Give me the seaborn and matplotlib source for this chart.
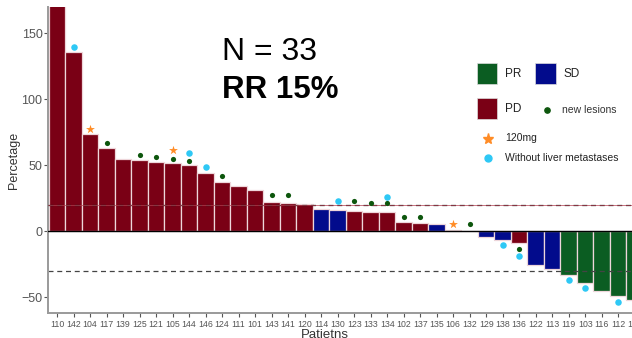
import matplotlib
matplotlib.use("Agg")
import matplotlib.pyplot as plt
from matplotlib.patches import Rectangle
from matplotlib.lines import Line2D
import seaborn as sns
import pandas as pd

patients = ["110", "142", "104", "117", "139", "125", "121", "105", "144", "146",
            "124", "111", "101", "143", "141", "120", "114", "130", "123", "133",
            "134", "102", "137", "135", "106", "132", "129", "138", "136", "122",
            "113", "119", "103", "116", "112", "118"]
change = [185, 136, 73.5, 63, 54.5, 54, 52.5, 51.5, 50, 44.5,
          37.5, 34, 31.5, 22.5, 21.7, 20.7, 16.7, 16, 15.7, 14.5,
          14.5, 7, 6.5, 5.3, 1, 0, -4.5, -6.3, -9.3, -25.8,
          -28.5, -33.3, -39, -45, -49, -52]
response = ["PD"] * 16 + ["SD", "SD"] + ["PD"] * 5 + ["SD", "PD", "PD", "SD", "SD", "PD", "SD", "SD"] + ["PR"] * 5

new_lesion_patients = ["117", "125", "121", "105", "144", "124", "143", "141", "123", "133",
                       "134", "102", "137", "132", "136"]
new_lesion_y = [67, 58, 56.6, 55, 53.5, 42.2, 27.8, 27.8, 22.7, 21.5,
                21.5, 10.6, 10.6, 5.8, -13.6]
dose120_patients = ["104", "105", "106"]
dose120_y = [77.8, 61.4, 5.8]
noliver_patients = ["142", "144", "146", "130", "134", "138", "136", "119", "103", "112"]
noliver_y = [139.4, 59, 48.7, 22.7, 26.3, -10.4, -19, -37, -43, -53.5]

colors = {"PR": "#0b5d22", "SD": "#020b8c", "PD": "#7a0015"}
c_new = "#0d560d"
c_star = "#ff8c26"
c_blue = "#2ec8f5"

df = pd.DataFrame({"patient": patients, "change": change, "response": response})

sns.set_theme(style="white")
plt.rcParams["font.family"] = ["Liberation Sans", "DejaVu Sans"]

W, H = 632, 338
fig = plt.figure(figsize=(W / 100, H / 100), dpi=100)
ax = fig.add_axes([48 / W, (H - 313) / H, (643 - 48) / W, (313 - 7) / H])

sns.barplot(data=df, x="patient", y="change", hue="response", order=patients,
            palette=colors, saturation=1, dodge=False, width=1.0, edgecolor="#eed6da",
            linewidth=0.9, legend=False, ax=ax)

pos = {p: i for i, p in enumerate(patients)}
ax.scatter([pos[p] for p in new_lesion_patients], new_lesion_y, s=14, color=c_new, zorder=5, linewidths=0)
ax.scatter([pos[p] for p in dose120_patients], dose120_y, s=45, marker="*", color=c_star, zorder=5, linewidths=0)
ax.scatter([pos[p] for p in noliver_patients], noliver_y, s=22, color=c_blue, zorder=5, linewidths=0)

ax.axhline(0, color="black", lw=1.0, zorder=4)
ax.axhline(20, color="#222222", lw=0.9, ls=(0, (4, 3)), zorder=4)
ax.axhline(20, color="#b04050", lw=0.5, zorder=4)
ax.axhline(-30, color="#444444", lw=0.9, ls=(0, (4, 3)), zorder=1)

ax.set_xlim(-0.55, 35.5)
ax.set_ylim(-62, 170)
ax.set_yticks([-50, 0, 50, 100, 150])
ax.set_yticklabels(["\u221250", "0", "50", "100", "150"])
ax.tick_params(axis="y", labelsize=9, colors="#555555", length=3, width=0.8, left=True, pad=1)
ax.tick_params(axis="x", labelsize=6.3, colors="#555555", length=3, width=0.8, bottom=True, pad=2)
ax.set_xlabel("")
ax.set_ylabel("Percetage", fontsize=9, color="#333333", labelpad=1)
for s in ["top", "right"]:
    ax.spines[s].set_visible(False)
for s in ["left", "bottom"]:
    ax.spines[s].set_color("#9a9a9a")
    ax.spines[s].set_linewidth(1.4)

fig.text(325 / W, 1 - 329 / H, "Patietns", fontsize=9.5, color="#333333", ha="center", va="top")

fig.text(222 / W, 1 - 52 / H, "N = 33", fontsize=23, color="black", ha="left", va="center")
fig.text(222 / W, 1 - 90 / H, "RR 15%", fontsize=22.5, color="black", ha="left", va="center", fontweight="bold")

# Legend
def square(x0, y0, w, h, c):
    fig.add_artist(Rectangle((x0 / W, 1 - (y0 + h) / H), w / W, h / H, transform=fig.transFigure,
                             facecolor=c, edgecolor="#dddddd", lw=0.5))

square(477, 63, 20, 21, colors["PR"])
fig.text(505 / W, 1 - 74 / H, "PR", fontsize=8.5, ha="left", va="center", color="#222222")
square(535, 63, 21, 21, colors["SD"])
fig.text(563 / W, 1 - 74 / H, "SD", fontsize=8.5, ha="left", va="center", color="#222222")
square(477, 98, 20, 21, colors["PD"])
fig.text(505 / W, 1 - 109 / H, "PD", fontsize=8.5, ha="left", va="center", color="#222222")
fig.add_artist(Line2D([547 / W], [1 - 110 / H], marker="o", markersize=3.8, color=c_new, lw=0,
                      transform=fig.transFigure))
fig.text(562 / W, 1 - 110 / H, "new lesions", fontsize=7.5, ha="left", va="center", color="#333333")
fig.add_artist(Line2D([488 / W], [1 - 139 / H], marker="*", markersize=8, color=c_star, lw=0,
                      transform=fig.transFigure))
fig.text(505 / W, 1 - 138 / H, "120mg", fontsize=7.5, ha="left", va="center", color="#222222")
fig.add_artist(Line2D([488 / W], [1 - 158 / H], marker="o", markersize=5, color=c_blue, lw=0,
                      transform=fig.transFigure))
fig.text(505 / W, 1 - 158 / H, "Without liver metastases", fontsize=7.5, ha="left", va="center", color="#222222")

fig.savefig("out.png", dpi=100)
